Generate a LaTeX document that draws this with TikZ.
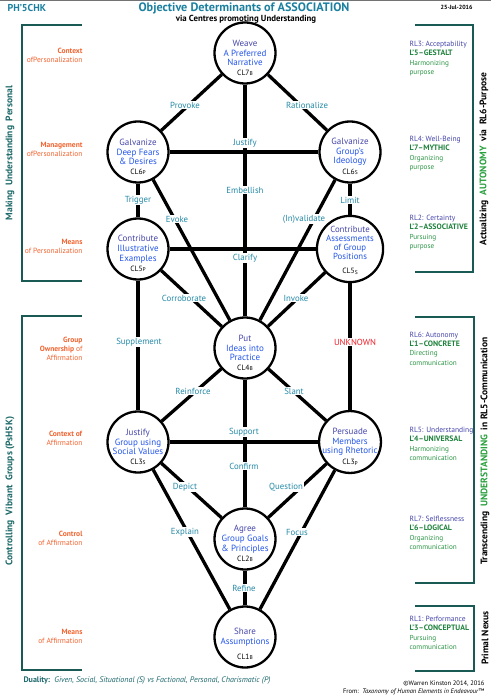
\documentclass[tikz,border=0pt]{standalone}
\usepackage{fontspec}
\setmainfont{PT Sans}
\definecolor{labc}{RGB}{38,138,168}
\definecolor{titc}{RGB}{28,128,160}
\definecolor{brkc}{RGB}{25,90,85}
\definecolor{vtc}{RGB}{30,105,105}
\definecolor{orc}{RGB}{242,100,48}
\definecolor{unk}{RGB}{240,30,40}
\definecolor{rlc}{RGB}{70,70,170}
\definecolor{lgc}{RGB}{30,130,60}
\definecolor{dgc}{RGB}{45,150,70}
\definecolor{nda}{RGB}{70,70,170}
\definecolor{ndb}{RGB}{35,85,235}
\definecolor{agc}{RGB}{40,160,60}
\definecolor{dual}{RGB}{30,105,110}
\newcommand{\clsub}[1]{\raisebox{-0.6pt}{\fontsize{5.5}{5.5}\selectfont #1}}
\newcommand{\ta}[1]{\textcolor{nda}{#1}}
\tikzset{
  cl/.style={circle, draw=black, line width=2.3pt, fill=white, minimum size=61pt, inner sep=0pt,
    align=center, font=\fontsize{9}{9.7}\selectfont, text=ndb},
  cll/.style={font=\fontsize{7.6}{7.6}\selectfont, text=black, inner sep=0pt, label distance=-15pt},
  edge/.style={line width=3.3pt, black},
  lab/.style={fill=white, inner sep=1.2pt, text=labc, font=\fontsize{8.8}{9}\selectfont},
  brk/.style={line width=2pt, brkc},
  lft/.style={anchor=east, align=right, text=orc, font=\fontsize{7.5}{9}\selectfont},
  rgt/.style={anchor=west, align=left, font=\fontsize{7.5}{9.3}\selectfont},
  vtl/.style={rotate=90, text=vtc, font=\bfseries\fontsize{9.5}{10}\selectfont},
  vtr/.style={rotate=90, text=black, font=\bfseries\fontsize{9.5}{10}\selectfont},
}
\newcommand{\rlb}[4]{\textcolor{rlc}{#1}\\\textcolor{lgc}{\bfseries\fontsize{7.8}{9.3}\selectfont #2}\\\textcolor{dgc}{\fontsize{7.2}{8.4}\selectfont #3}\\\textcolor{dgc}{\fontsize{7.2}{8.4}\selectfont #4}}
\begin{document}
\begin{tikzpicture}[x=1pt,y=-1pt]
\useasboundingbox (0,0) rectangle (491,700);
\fill[white] (0,0) rectangle (491,700);
\fill[black!55] (0,0) rectangle (491,1.2);

% header
\node[anchor=west, text=titc, font=\bfseries\fontsize{10}{11}\selectfont] (hdl) at (4,8) {PH’5CHK};
\node[text=titc, font=\bfseries\fontsize{12.2}{13}\selectfont] (title) at (244,8) {Objective Determinants of ASSOCIATION};
\node[font=\bfseries\fontsize{8.8}{9}\selectfont] (subt) at (246,19.5) {via Centres promoting Understanding};
\node[anchor=east, font=\bfseries\fontsize{6}{6}\selectfont] (date) at (476,7) {25-Jul-2016};

% brackets
\draw[brk] (82,25) -- (22,25) -- (22,281) -- (82,281);
\draw[brk] (82,316) -- (22,316) -- (22,670) -- (82,670);
\draw[brk] (415,25) -- (473,25) -- (473,272) -- (415,272);
\draw[brk] (415,317) -- (474,317) -- (474,583) -- (415,583);
\draw[brk] (415,606) -- (474,606) -- (474,671) -- (415,671);

% vertical texts
\node[vtl] (vl1) at (10,153) {Making\ \ Understanding\ \ Personal};
\node[vtl] (vl2) at (10,491) {Controlling\ \ Vibrant\ \ Groups (PsH5K)};
\node[vtr] (vr1) at (484,159) {Actualizing\ \ \textcolor{agc}{AUTONOMY}\ \ via\ \ RL6-Purpose};
\node[vtr] (vr2) at (485,451) {Transcending\ \ \textcolor{agc}{UNDERSTANDING}\ \ in RL5-Communication};
\node[vtr] (vr3) at (485,638) {Primal Nexus};

% left labels
\node[lft] (l1) at (86,55.5) {\textbf{Context}\\ofPersonalization};
\node[lft] (l2) at (86,149.5) {\textbf{Management}\\ofPersonalization};
\node[lft] (l3) at (86,246.5) {\textbf{Means}\\of Personalization};
\node[lft] (l4) at (86,349) {\textbf{Group}\\\textbf{Ownership} of\\Affirmation};
\node[lft] (l5) at (86,438.5) {\textbf{Context of}\\Affirmation};
\node[lft] (l6) at (86,538.5) {\textbf{Control}\\of Affirmation};
\node[lft] (l7) at (86,636.5) {\textbf{Means}\\of Affirmation};

% right labels
\node[rgt] (r1) at (406,58.5) {\rlb{RL3:\ Acceptability}{L’5–GESTALT}{Harmonizing}{purpose}};
\node[rgt] (r2) at (406,153.5) {\rlb{RL4:\ Well-Being}{L’7–MYTHIC}{Organizing}{purpose}};
\node[rgt] (r3) at (406,232.5) {\rlb{RL2: Certainty}{L’2–ASSOCIATIVE}{Pursuing}{purpose}};
\node[rgt] (r4) at (406,348.5) {\rlb{RL6:\ Autonomy}{L’1–CONCRETE}{Directing}{communication}};
\node[rgt] (r5) at (406,444) {\rlb{RL5: Understanding}{L’4–UNIVERSAL}{Harmonizing}{communication}};
\node[rgt] (r6) at (406,533) {\rlb{RL7:\ Selflessness}{L’6–LOGICAL}{Organizing}{communication}};
\node[rgt] (r7) at (406,633) {\rlb{RL1:\ Performance}{L’3–CONCEPTUAL}{Pursuing}{communication}};

% circles
\node[cl, label={[cll]south:CL7\clsub{B}}] (c7) at (245,53) {\ta{Weave}\\A Preferred\\Narrative};
\node[cl, label={[cll]south:CL6\clsub{P}}] (c6p) at (138,152) {\ta{Galvanize}\\Deep Fears\\\& Desires};
\node[cl, label={[cll]south:CL6\clsub{S}}] (c6s) at (350,152) {\ta{Galvanize}\\Group’s\\Ideology};
\node[cl, label={[cll]south:CL5\clsub{P}}] (c5p) at (138,249) {\ta{Contribute}\\Illustrative\\Examples};
\node[cl, font=\fontsize{8.8}{9}\selectfont, label={[cll]south:CL5\clsub{S}}] (c5s) at (350,249) {\ta{Contribute}\\Assessments\\of Group\\Positions\\[4pt]};
\node[cl, label={[cll]south:CL4\clsub{B}}] (c4) at (245,348) {\ta{Put}\\Ideas into\\Practice};
\node[cl, label={[cll]south:CL3\clsub{S}}] (c3s) at (138,442) {\ta{Justify}\\Group using\\Social Values};
\node[cl, label={[cll]south:CL3\clsub{P}}] (c3p) at (350,442) {\ta{Persuade}\\Members\\using Rhetoric};
\node[cl, label={[cll]south:CL2\clsub{B}}] (c2) at (245,539) {\ta{Agree}\\Group Goals\\\& Principles};
\node[cl, label={[cll]south:CL1\clsub{B}}] (c1) at (245,637) {\ta{Share}\\Assumptions};

% connectors
\foreach \a/\b in {c7/c6p, c7/c6s, c7/c4, c6p/c6s, c6p/c5p, c6s/c5s, c6p/c4, c6s/c4,
  c5p/c5s, c5p/c4, c5s/c4, c5p/c3s, c5s/c3p, c4/c3s, c4/c3p, c4/c2, c3s/c3p,
  c3s/c2, c3p/c2, c3s/c1, c3p/c1, c2/c1}
  \draw[edge] (\a) -- (\b);

% connector labels
\node[lab] (e1) at (185,105) {Provoke};
\node[lab] (e2) at (307,105) {Rationalize};
\node[lab] (e3) at (245,143) {Justify};
\node[lab] (e4) at (245,190) {Embellish};
\node[lab] (e5) at (245,258) {Clarify};
\node[lab] (e6) at (138,200) {Trigger};
\node[lab] (e7) at (350,200) {Limit};
\node[lab] (e8) at (177,219) {Evoke};
\node[lab] (e9) at (304,219) {(In)validate};
\node[lab] (e10) at (184,298) {Corroborate};
\node[lab] (e11) at (296,298) {Invoke};
\node[lab] (e12) at (139,342) {Supplement};
\node[lab, text=unk] (e13) at (355,342) {UNKNOWN};
\node[lab] (e14) at (193,391) {Reinforce};
\node[lab] (e15) at (294,391) {Slant};
\node[lab] (e16) at (244,432) {Support};
\node[lab] (e17) at (244,466) {Confirm};
\node[lab] (e18) at (185,487) {Depict};
\node[lab] (e19) at (286,487) {Question};
\node[lab] (e20) at (185,532) {Explain};
\node[lab] (e21) at (297,532) {Focus};
\node[lab] (e22) at (244,588) {Refine};

% footer
\node[anchor=west, text=dual, font=\fontsize{8}{9}\selectfont] (dual) at (20,681)
  {\textbf{Duality:}\ \ \textit{Given, Social, Situational (S) vs Factional, Personal, Charismatic (P)}};
\node[anchor=east, font=\fontsize{6.5}{7}\selectfont] (copy) at (488,684) {©Warren Kinston 2014, 2016};
\node[anchor=east, font=\fontsize{6.5}{7}\selectfont] (from) at (488,692) {From:\ \ \textit{Taxonomy of Human Elements in Endeavour}™};
\end{tikzpicture}
\end{document}
